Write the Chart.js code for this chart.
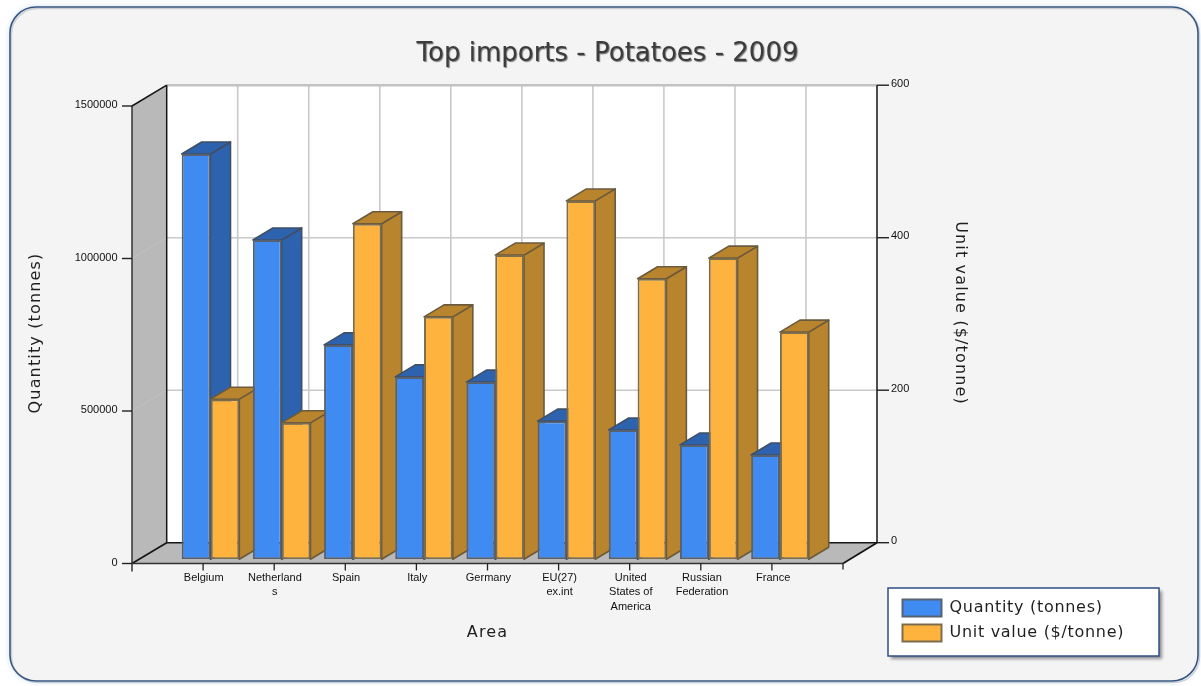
<!DOCTYPE html>
<html><head><meta charset="utf-8">
<style>html,body{margin:0;padding:0;background:#fff}canvas{display:block}</style>
<script src="https://cdn.jsdelivr.net/npm/chart.js@4"></script>
</head><body><canvas id="c" width="1201" height="686"></canvas>
<script>
const chartTitle = 'Top imports - Potatoes - 2009';
const categories = ['Belgium',['Netherland','s'],'Spain','Italy','Germany',['EU(27)','ex.int'],['United','States of','America'],['Russian','Federation'],'France',''];
const quantity = [1329000,1047000,703000,598000,581000,453000,424000,375000,342000];
const unitValue = [210,179,440,318,399,470,368,395,298];
const seriesNames = ['Quantity (tonnes)','Unit value ($/tonne)'];
const xTitle = 'Area';
const leftTitle = 'Quantity (tonnes)';
const rightTitle = 'Unit value ($/tonne)';

const FONT = '"DejaVu Sans"';
const INK = '#1f1f1f';
const BAR_D = {x:20,y:-12};

function poly(ctx,pts,fill,stroke,lw){
  ctx.beginPath();pts.forEach((p,i)=>i?ctx.lineTo(p[0],p[1]):ctx.moveTo(p[0],p[1]));ctx.closePath();
  if(fill){ctx.fillStyle=fill;ctx.fill();}
  if(stroke){ctx.strokeStyle=stroke;ctx.lineWidth=lw||1;ctx.lineJoin='round';ctx.stroke();}
}
function seg(ctx,x1,y1,x2,y2,c,w){ctx.beginPath();ctx.moveTo(x1,y1);ctx.lineTo(x2,y2);ctx.strokeStyle=c;ctx.lineWidth=w;ctx.stroke();}

const scene = {
  id:'scene',
  afterLayout(chart){
    const l=chart.legend; l.left=894.5; l.top=591.5; l.right=l.left+l.width+50; l.bottom=l.top+l.height+10;
    if(!l._sp){l._sp=true;const d=l.draw;l.draw=function(...a){const c=l.ctx;c.save();c.letterSpacing='0.7px';d.apply(l,a);c.restore();};}
    const t=chart.titleBlock;
    if(!t._sh){t._sh=true;const d=t.draw;t.draw=function(...a){const c=t.ctx;c.save();c.shadowColor='rgba(90,90,90,.8)';c.shadowOffsetX=1;c.shadowOffsetY=1;c.shadowBlur=1;d.apply(t,a);c.restore();};}
  },
  beforeDraw(chart){
    const ctx=chart.ctx;
    ctx.save();
    // panel
    ctx.beginPath();ctx.roundRect(10,7,1188,674,26);
    ctx.shadowColor='rgba(170,200,235,.55)';ctx.shadowBlur=7;
    ctx.fillStyle='#f4f4f4';ctx.fill();
    ctx.shadowColor='transparent';ctx.shadowBlur=0;
    ctx.strokeStyle='#35557f';ctx.lineWidth=1.6;ctx.stroke();
    ctx.beginPath();ctx.roundRect(11.5,8.5,1188,674,26);ctx.strokeStyle='rgba(110,120,140,.3)';ctx.lineWidth=1.4;ctx.stroke();
    // legend frame
    ctx.shadowColor='rgba(60,60,70,.55)';ctx.shadowOffsetX=3;ctx.shadowOffsetY=3;ctx.shadowBlur=3;
    ctx.fillStyle='#fff';ctx.fillRect(888,588,271,68);
    ctx.shadowColor='transparent';ctx.shadowOffsetX=0;ctx.shadowOffsetY=0;ctx.shadowBlur=0;
    ctx.strokeStyle='#2f4f80';ctx.lineWidth=1.5;ctx.strokeRect(888,588,271,68);
    // axis titles
    ctx.fillStyle=INK;ctx.font='16px '+FONT;ctx.letterSpacing='1.15px';ctx.textAlign='center';ctx.textBaseline='middle';
    ctx.fillText(xTitle,487.5,633);
    ctx.save();ctx.translate(36,333);ctx.rotate(-Math.PI/2);ctx.fillText(leftTitle,0,0);ctx.restore();
    ctx.save();ctx.translate(960,313);ctx.rotate(Math.PI/2);ctx.fillText(rightTitle,0,0);ctx.restore();
    ctx.letterSpacing='0px';
    ctx.restore();
  },
  beforeDatasetsDraw(chart){
    const ctx=chart.ctx,{x,y,y1}=chart.scales,a=chart.chartArea;
    const fx0=a.left-42.9, fx1=a.right-43.7, bx0=a.left-8.2, bx1=a.right-9.7;
    const fdy=4.2, bdy=-16.6;
    const fy=v=>y.getPixelForValue(v)+fdy, by=v=>y.getPixelForValue(v)+bdy;
    const ry=v=>y1.getPixelForValue(v)+bdy;
    ctx.save();
    // walls
    ctx.fillStyle='#fff';ctx.fillRect(bx0,by(y.max),bx1-bx0,by(0)-by(y.max));
    poly(ctx,[[fx0,fy(y.max)],[bx0,by(y.max)],[bx0,by(0)],[fx0,fy(0)]],'#b9b9b9');
    poly(ctx,[[fx0,fy(0)],[fx1,fy(0)],[bx1,by(0)],[bx0,by(0)]],'#b9b9b9');
    // grid on back wall
    const step=(bx1-bx0)/10;
    for(let i=1;i<10;i++)seg(ctx,bx0+step*i,by(y.max),bx0+step*i,by(0),'#c9c9c9',1.6);
    y.ticks.forEach(t=>{
      if(t.value>0&&t.value<y.max){seg(ctx,bx0,by(t.value),bx1,by(t.value),'#c9c9c9',1.6);
        seg(ctx,fx0,fy(t.value),bx0,by(t.value),'#c2c2c2',1);}
    });
    seg(ctx,bx0,by(y.max),bx1,by(y.max),'#c2c2c2',2.6);
    // frame
    const K='#151515';
    seg(ctx,bx0,by(y.max),bx0,by(0),K,1.5);
    seg(ctx,bx1,by(y.max),bx1,by(0),K,1.5);
    seg(ctx,bx0,by(0),bx1,by(0),K,1.5);
    seg(ctx,fx0,fy(y.max),fx0,fy(0)+8,'#333',1.5);
    seg(ctx,fx0,fy(y.max),bx0,by(y.max),K,1.5);
    seg(ctx,fx0,fy(0),bx0,by(0),K,1.7);
    seg(ctx,fx1,fy(0),bx1,by(0),K,1.7);
    seg(ctx,fx0,fy(0),fx1,fy(0),'#333',1.5);
    // ticks
    y.ticks.forEach(t=>seg(ctx,fx0-10,fy(t.value),fx0,fy(t.value),'#222',1.4));
    y1.ticks.forEach(t=>seg(ctx,bx1,ry(t.value),bx1+12,ry(t.value),'#222',1.4));
    for(let i=1;i<=10;i++){const px=fx0+(fx1-fx0)/10*i;seg(ctx,px,fy(0),px,fy(0)+(i==10?6:7),'#222',1.3);}
    // bar side and top faces, left to right
    const m0=chart.getDatasetMeta(0).data,m1=chart.getDatasetMeta(1).data;
    const faces=[{m:m0,top:'#2d63ae',side:'#2d63ae',edge:'#3f4f66'},{m:m1,top:'#b8842e',side:'#b8842e',edge:'#6b5a3c'}];
    m0.forEach((_,i)=>faces.forEach(f=>{
      const b=f.m[i];if(!b)return;
      const w=b.width/2,l=b.x-w,r=b.x+w,t=b.y,bt=b.base,dx=BAR_D.x,dy=BAR_D.y;
      poly(ctx,[[r,t],[r+dx,t+dy],[r+dx,bt+dy],[r,bt]],f.side,f.edge,1.6);
      poly(ctx,[[l,t],[l+dx,t+dy],[r+dx,t+dy],[r,t]],f.top,f.edge,1.6);
    }));
    ctx.restore();
  }
};

const noGrid={display:false,drawTicks:false};
new Chart(document.getElementById('c'),{
  type:'bar',
  data:{labels:categories,datasets:[
    {label:seriesNames[0],data:quantity,yAxisID:'y',backgroundColor:'#3f8bf2',borderColor:'#566272',borderWidth:2,borderSkipped:false},
    {label:seriesNames[1],data:unitValue,yAxisID:'y1',backgroundColor:'#fdb33d',borderColor:'#7d6c4c',borderWidth:2,borderSkipped:false}
  ]},
  plugins:[scene],
  options:{
    responsive:false,animation:false,
    layout:{padding:{left:14,right:0,top:0,bottom:0}},
    datasets:{bar:{barPercentage:1,categoryPercentage:0.809}},
    plugins:{
      tooltip:{enabled:false},
      title:{display:true,text:chartTitle,color:'#3c3c3c',font:{family:FONT,size:26,weight:'normal',lineHeight:1.2},padding:{top:38.2,bottom:32.4}},
      legend:{position:'chartArea',align:'start',labels:{boxWidth:39,boxHeight:17,padding:8,color:INK,font:{family:FONT,size:16}}}
    },
    scales:{
      x:{grid:noGrid,border:{display:false},
        afterFit(s){s.height=126.7;},
        ticks:{autoSkip:false,maxRotation:0,minRotation:0,labelOffset:-6.8,padding:11,color:'#111',font:{family:'"Liberation Sans"',size:11,lineHeight:'14.5px'}}},
      y:{position:'left',min:0,max:1500000,grid:noGrid,border:{display:false},
        afterFit(s){s.width=160.9;},
        ticks:{stepSize:500000,padding:57.4,labelOffset:3.5,color:'#111',font:{family:'"Liberation Sans"',size:11},callback:v=>String(v)}},
      y1:{position:'right',min:0,max:600,grid:noGrid,border:{display:false},
        afterFit(s){s.width=314.3;},
        ticks:{stepSize:200,padding:4.3,labelOffset:-18,color:'#111',font:{family:'"Liberation Sans"',size:11},callback:v=>String(v)}}
    }
  }
});
</script></body></html>
